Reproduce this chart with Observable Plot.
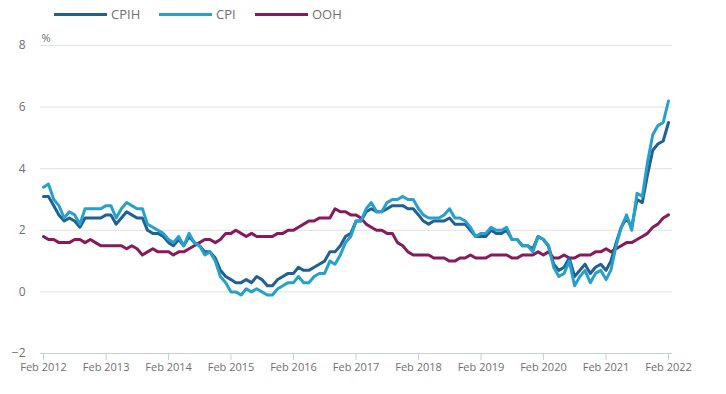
<!DOCTYPE html>
<html><head><meta charset="utf-8">
<script src="https://cdn.jsdelivr.net/npm/d3@7"></script>
<script src="https://cdn.jsdelivr.net/npm/@observablehq/plot@0.6"></script>
<style>
body{margin:0;background:#fff;font-family:"Open Sans",sans-serif;}
#legend{position:relative;height:28px;width:726px;}
.item{position:absolute;top:5px;display:flex;align-items:center;font-size:13px;color:#707070;line-height:18px;}
.sw{display:inline-block;width:53px;height:3px;margin-right:4px;}
</style></head><body>
<div id="legend"></div>
<div id="chart"></div>
<script>
const seriesNames = ["CPIH", "CPI", "OOH"];
const seriesColors = ["#206095", "#27a0cc", "#871a5b"];
const legendLeft = [54, 159, 255];
const startMonth = "2012-02";
const xTickLabels = ["Feb 2012","Feb 2013","Feb 2014","Feb 2015","Feb 2016","Feb 2017","Feb 2018","Feb 2019","Feb 2020","Feb 2021","Feb 2022"];
const yTicks = [-2, 0, 2, 4, 6, 8];

// Monthly 12-month rates, Feb 2012 – Feb 2022
const cpih = [
  3.1,3.1,2.8,2.5,2.3,2.4,2.3,2.1,2.4,2.4,2.4,
  2.4,2.5,2.5,2.2,2.4,2.6,2.5,2.4,2.4,2.0,1.9,1.9,
  1.8,1.6,1.5,1.7,1.5,1.8,1.6,1.5,1.3,1.3,1.1,0.7,
  0.5,0.4,0.3,0.3,0.4,0.3,0.5,0.4,0.2,0.2,0.4,0.5,
  0.6,0.6,0.8,0.7,0.7,0.8,0.9,1.0,1.3,1.3,1.5,1.8,
  1.9,2.3,2.3,2.6,2.7,2.6,2.6,2.7,2.8,2.8,2.8,2.7,
  2.7,2.5,2.3,2.2,2.3,2.3,2.3,2.4,2.2,2.2,2.2,2.0,
  1.8,1.8,1.8,2.0,1.9,1.9,2.0,1.7,1.7,1.5,1.5,1.4,
  1.8,1.7,1.5,0.9,0.7,0.8,1.1,0.5,0.7,0.9,0.6,0.8,
  0.9,0.7,1.0,1.6,2.1,2.4,2.1,3.0,2.9,3.8,4.6,4.8,
  4.9,5.5
];
const cpi = [
  3.4,3.5,3.0,2.8,2.4,2.6,2.5,2.2,2.7,2.7,2.7,
  2.7,2.8,2.8,2.4,2.7,2.9,2.8,2.7,2.7,2.2,2.1,2.0,
  1.9,1.7,1.6,1.8,1.5,1.9,1.6,1.5,1.2,1.3,1.0,0.5,
  0.3,0.0,0.0,-0.1,0.1,0.0,0.1,0.0,-0.1,-0.1,0.1,0.2,
  0.3,0.3,0.5,0.3,0.3,0.5,0.6,0.6,1.0,0.9,1.2,1.6,
  1.8,2.3,2.3,2.7,2.9,2.6,2.6,2.9,3.0,3.0,3.1,3.0,
  3.0,2.7,2.5,2.4,2.4,2.4,2.5,2.7,2.4,2.4,2.3,2.1,
  1.8,1.9,1.9,2.1,2.0,2.0,2.1,1.7,1.7,1.5,1.5,1.3,
  1.8,1.7,1.5,0.8,0.5,0.6,1.0,0.2,0.5,0.7,0.3,0.6,
  0.7,0.4,0.7,1.5,2.1,2.5,2.0,3.2,3.1,4.2,5.1,5.4,
  5.5,6.2
];
const ooh = [
  1.8,1.7,1.7,1.6,1.6,1.6,1.7,1.7,1.6,1.7,1.6,
  1.5,1.5,1.5,1.5,1.5,1.4,1.5,1.4,1.2,1.3,1.4,1.3,
  1.3,1.3,1.2,1.3,1.3,1.4,1.5,1.6,1.7,1.7,1.6,1.7,
  1.9,1.9,2.0,1.9,1.8,1.9,1.8,1.8,1.8,1.8,1.9,1.9,
  2.0,2.0,2.1,2.2,2.3,2.3,2.4,2.4,2.4,2.7,2.6,2.6,
  2.5,2.5,2.4,2.2,2.1,2.0,2.0,1.9,1.9,1.6,1.5,1.3,
  1.2,1.2,1.2,1.2,1.1,1.1,1.1,1.0,1.0,1.1,1.1,1.2,
  1.1,1.1,1.1,1.2,1.2,1.2,1.2,1.1,1.1,1.2,1.2,1.2,
  1.3,1.2,1.3,1.1,1.1,1.2,1.1,1.1,1.2,1.2,1.2,1.3,
  1.3,1.4,1.3,1.4,1.5,1.6,1.6,1.7,1.8,1.9,2.1,2.2,
  2.4,2.5
];

// legend
const legend = document.getElementById("legend");
seriesNames.forEach((name, i) => {
  const item = document.createElement("div");
  item.className = "item";
  item.style.left = legendLeft[i] + "px";
  item.innerHTML = `<span class="sw" style="background:${seriesColors[i]}"></span><span>${name}</span>`;
  legend.appendChild(item);
});

const start = d3.utcParse("%Y-%m")(startMonth);
const dates = cpih.map((_, i) => d3.utcMonth.offset(start, i));
const data = [];
[["OOH", ooh], ["CPIH", cpih], ["CPI", cpi]].forEach(([s, arr]) =>
  arr.forEach((v, i) => data.push({date: dates[i], series: s, value: v})));
const xTicks = xTickLabels.map(t => d3.utcParse("%b %Y")(t));

const chart = Plot.plot({
  width: 726, height: 366,
  marginTop: 17, marginBottom: 41, marginLeft: 40, marginRight: 54,
  insetLeft: 3, insetRight: 4,
  style: {fontFamily: "Open Sans", fontSize: "11px", color: "#707070", background: "#fff"},
  x: {type: "utc", domain: [dates[0], dates[dates.length - 1]], label: null},
  y: {domain: [-2, 8], label: null},
  color: {domain: seriesNames, range: seriesColors},
  marks: [
    Plot.ruleY(yTicks.filter(d => d > -2), {stroke: "#e2e2e2"}),
    Plot.ruleY([-2], {stroke: "#c5d0db"}),
    Plot.axisY({ticks: yTicks, tickSize: 0, tickPadding: 15, fontSize: 12, fill: "#707070", label: null}),
    Plot.axisX({ticks: xTicks, tickFormat: d3.utcFormat("%b %Y"), tickSize: 7, stroke: "#c5d0db", fill: "#707070", tickPadding: 3, fontSize: 11, label: null}),
    Plot.text([8], {y: d => d, text: () => "%", frameAnchor: "left", textAnchor: "start", dx: 1, dy: -7, fill: "#707070", fontSize: 11}),
    Plot.line(data, {x: "date", y: "value", stroke: "series", z: "series", strokeWidth: 3})
  ]
});
document.getElementById("chart").appendChild(chart);
</script>
</body></html>
